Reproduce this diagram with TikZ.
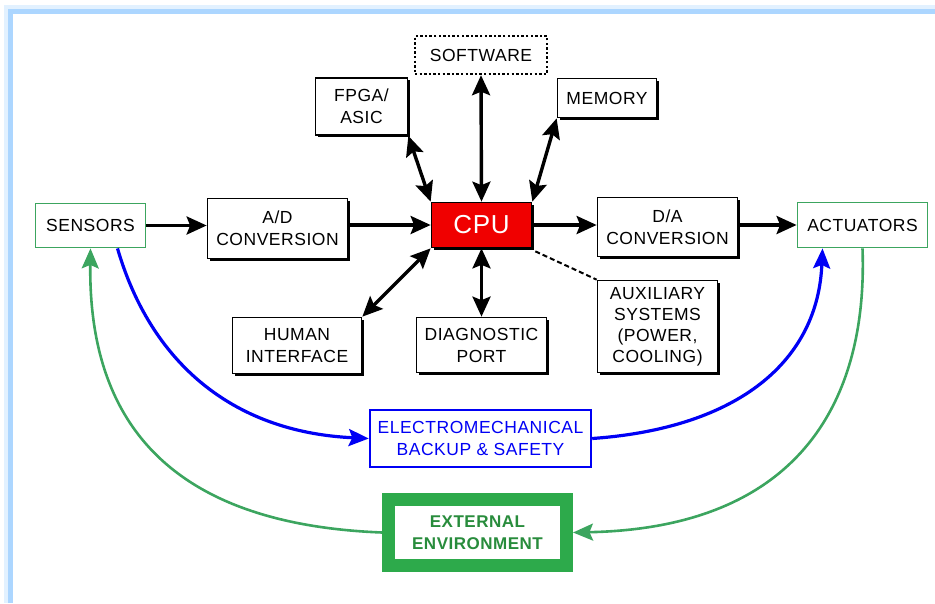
\documentclass[tikz,border=0pt]{standalone}
\usepackage{fontspec}
\setmainfont[LetterSpace=3]{Liberation Sans}
\usetikzlibrary{arrows.meta,shadows,calc}
\definecolor{cpured}{RGB}{240,0,0}
\definecolor{envgreen}{RGB}{45,170,75}
\definecolor{envtext}{RGB}{40,140,60}
\definecolor{sgreen}{RGB}{60,165,95}
\definecolor{mblue}{RGB}{0,0,245}
\definecolor{framebl}{RGB}{172,214,255}
\tikzset{
  plainbox/.style={inner sep=0pt, align=center, font=\fontsize{17.5}{22}\selectfont, fill=white},
  box/.style={plainbox, draw=black, line width=1.7pt,
    drop shadow={shadow xshift=2pt, shadow yshift=-2pt, fill=black, opacity=1}},
  greenbox/.style={plainbox, draw=sgreen, line width=1.8pt},
  softbox/.style={plainbox, draw=black, line width=2.4pt, dash pattern=on 2.4pt off 2.2pt},
  bluebox/.style={plainbox, draw=mblue, line width=2.4pt, text=mblue},
  envbox/.style={plainbox, draw=envgreen, line width=13pt, text=envtext,
    font=\fontsize{17}{22}\selectfont\bfseries},
  tip/.tip={Stealth[length=20pt,width=18pt,inset=3.5pt]},
  onearrow/.style={line width=3.4pt, -tip},
  dblarrow/.style={line width=3.4pt, tip-tip},
  bluecurve/.style={draw=mblue, line width=3.2pt, -{Stealth[length=20pt,width=17pt,inset=3.5pt]}},
  greencurve/.style={draw=sgreen, line width=2.6pt, -{Stealth[length=20pt,width=17pt,inset=3.5pt]}}
}
\begin{document}
\begin{tikzpicture}[x=1pt,y=-1pt]
\useasboundingbox (0,0) rectangle (935,603);
% frame
\draw[line width=9pt, framebl!35] (8.5,603) -- (8.5,9.5) -- (935,9.5);
\draw[line width=5pt, framebl] (10,603) -- (10,11.5) -- (935,11.5);

% nodes
\node[greenbox, minimum width=110pt, minimum height=44pt] (sensors) at (90.5,225.5) {SENSORS};
\node[box, minimum width=140pt, minimum height=60pt] (ad) at (277.5,228.5) {A/D\\CONVERSION};
\node[box, fill=cpured, text=white, minimum width=100pt, minimum height=45pt,
      font=\fontsize{26}{30}\selectfont] (cpu) at (481.5,225) {CPU};
\node[box, minimum width=140pt, minimum height=59pt] (da) at (667.5,227) {D/A\\CONVERSION};
\node[greenbox, minimum width=130pt, minimum height=45pt] (act) at (862.5,225) {ACTUATORS};
\node[softbox, minimum width=132pt, minimum height=38pt] (soft) at (481,55) {SOFTWARE};
\node[box, minimum width=99pt, minimum height=39pt] (mem) at (607,98) {MEMORY};
\node[box, minimum width=92pt, minimum height=57pt] (fpga) at (361.5,106.5) {FPGA/\\ASIC};
\node[box, minimum width=129pt, minimum height=56pt] (human) at (297,345.5) {HUMAN\\INTERFACE};
\node[box, minimum width=130pt, minimum height=55pt] (diag) at (481.5,345) {DIAGNOSTIC\\PORT};
\node[box, minimum width=120pt, minimum height=92pt, font=\fontsize{17.5}{21}\selectfont] (aux) at (657.5,326.5) {AUXILIARY\\SYSTEMS\\(POWER,\\COOLING)};
\node[bluebox, minimum width=221pt, minimum height=57pt] (emech) at (480.5,438.5) {ELECTROMECHANICAL\\BACKUP \& SAFETY};
\node[envbox, minimum width=178pt, minimum height=66pt] (ext) at (477.5,532.5) {EXTERNAL\\ENVIRONMENT};

% main chain
\draw[onearrow] (sensors.east) -- (sensors.east -| ad.west);
\draw[onearrow] (ad.east |- cpu.west) -- (cpu.west);
\draw[onearrow] (cpu.east) -- (cpu.east -| da.west);
\draw[onearrow] (act.west -| da.east) -- (act.west);

% double arrows around CPU
\draw[dblarrow] (soft.south) -- (cpu.north);
\draw[dblarrow] (mem.south west) -- (cpu.north east);
\draw[dblarrow] (fpga.south east) -- (cpu.north west);
\draw[dblarrow] (human.north east) -- (cpu.south west);
\draw[dblarrow] (diag.north) -- (cpu.south);
\draw[line width=2pt, dash pattern=on 5pt off 3pt] ($(cpu.south east)+(3,3)$) -- (aux.north west);

% curves
\draw[bluecurve] ([xshift=27pt]sensors.south) .. controls (150,360) and (230,432) .. (emech.west);
\draw[bluecurve] (emech.east) .. controls (740,428) and (818,360) .. ([xshift=-40pt]act.south);
\draw[greencurve] (ext.west) .. controls (190,525) and (88,440) .. (sensors.south);
\draw[greencurve] (act.south) .. controls (868,400) and (800,528) .. (ext.east);
\end{tikzpicture}
\end{document}
